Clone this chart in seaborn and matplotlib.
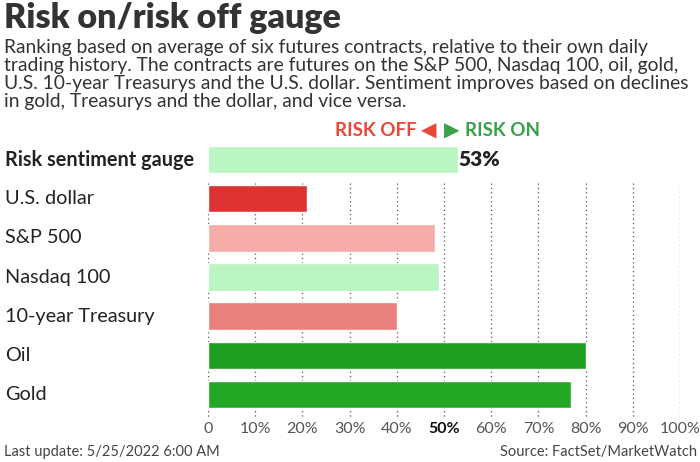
import matplotlib
matplotlib.use('Agg')
import matplotlib.pyplot as plt
import matplotlib.transforms as mtransforms
import seaborn as sns

# data
labels = ['Risk sentiment gauge', 'U.S. dollar', 'S&P 500', 'Nasdaq 100',
          '10-year Treasury', 'Oil', 'Gold']
values = [53, 21, 48, 49, 40, 80, 77]
bar_colors = ['#baf5c2', '#de3333', '#f5aba7', '#baf5c2', '#e8817c', '#1f9e21', '#22a824']
tick_values = [0, 10, 20, 30, 40, 50, 60, 70, 80, 90, 100]
tick_labels = ['0', '10%', '20%', '30%', '40%', '50%', '60%', '70%', '80%', '90%', '100%']

sns.set_style('white')
plt.rcParams['font.family'] = ['Lato', 'DejaVu Sans']

W, H = 700, 462
fig = plt.figure(figsize=(7, 4.62), dpi=100)
ax = fig.add_axes([208 / W, 1 - 418 / H, 472 / W, (418 - 140) / H])

sns.barplot(x=values, y=labels, hue=labels, palette=dict(zip(labels, bar_colors)),
            legend=False, orient='h', width=0.7, ax=ax, saturation=1, zorder=2)

ax.vlines(tick_values, 0.6, 6.75, colors='#555555', linestyles=(0, (1, 2.5)),
          linewidth=0.9, zorder=1)
ax.set_xlim(0, 100)
ax.set_ylim(6.6, -0.5)
for s in ax.spines.values():
    s.set_visible(False)
ax.set_xlabel('')
ax.set_ylabel('')
ax.set_yticks([])
ax.set_xticks(tick_values)
ax.set_xticklabels(tick_labels, fontsize=11.5, color='#555555')
ax.tick_params(axis='x', length=0, pad=3)
ax.get_xticklabels()[5].set_fontweight('bold')
ax.get_xticklabels()[5].set_color('#111111')

# row labels on the left edge
trans = mtransforms.blended_transform_factory(fig.transFigure, ax.transData)
for i, lab in enumerate(labels):
    ax.text(5 / W, i, lab, transform=trans, ha='left', va='center',
            fontsize=14.3, color='#222222',
            fontweight='bold' if i == 0 else 'normal')

# value for the gauge
ax.text(values[0] + 0.1, 0, f'{values[0]}%', ha='left', va='center',
        fontsize=15, fontweight='heavy', color='#222222')

# titles
fig.text(4 / W, 1 - 2 / H, 'Risk on/risk off gauge', ha='left', va='top',
         fontsize=24.5, fontweight='heavy', color='#333333')
subtitle = ('Ranking based on average of six futures contracts, relative to their own daily\n'
            'trading history. The contracts are futures on the S&P 500, Nasdaq 100, oil, gold,\n'
            'U.S. 10-year Treasurys and the U.S. dollar. Sentiment improves based on declines\n'
            'in gold, Treasurys and the dollar, and vice versa.')
fig.text(4 / W, 1 - 39 / H, subtitle, ha='left', va='top', fontsize=13.9,
         color='#333333', linespacing=1.08)

# risk off / risk on key
fig.text(417 / W, 1 - 131 / H, 'RISK OFF', ha='right', va='center',
         fontsize=13.5, fontweight='bold', color='#e8473a')
fig.text(429 / W, 1 - 131 / H, '\u25C0', ha='center', va='center',
         fontsize=14.5, color='#e8473a', family=['DejaVu Sans'])
fig.text(452 / W, 1 - 131 / H, '\u25B6', ha='center', va='center',
         fontsize=14.5, color='#3aa04a', family=['DejaVu Sans'])
fig.text(465 / W, 1 - 131 / H, 'RISK ON', ha='left', va='center',
         fontsize=13.5, fontweight='bold', color='#3aa04a')

# footer
fig.text(4 / W, 1 - 452 / H, 'Last update: 5/25/2022 6:00 AM', ha='left', va='center',
         fontsize=10.5, color='#444444')
fig.text(697 / W, 1 - 452 / H, 'Source: FactSet/MarketWatch', ha='right', va='center',
         fontsize=10.5, color='#444444')

fig.savefig('out.png', dpi=100)
